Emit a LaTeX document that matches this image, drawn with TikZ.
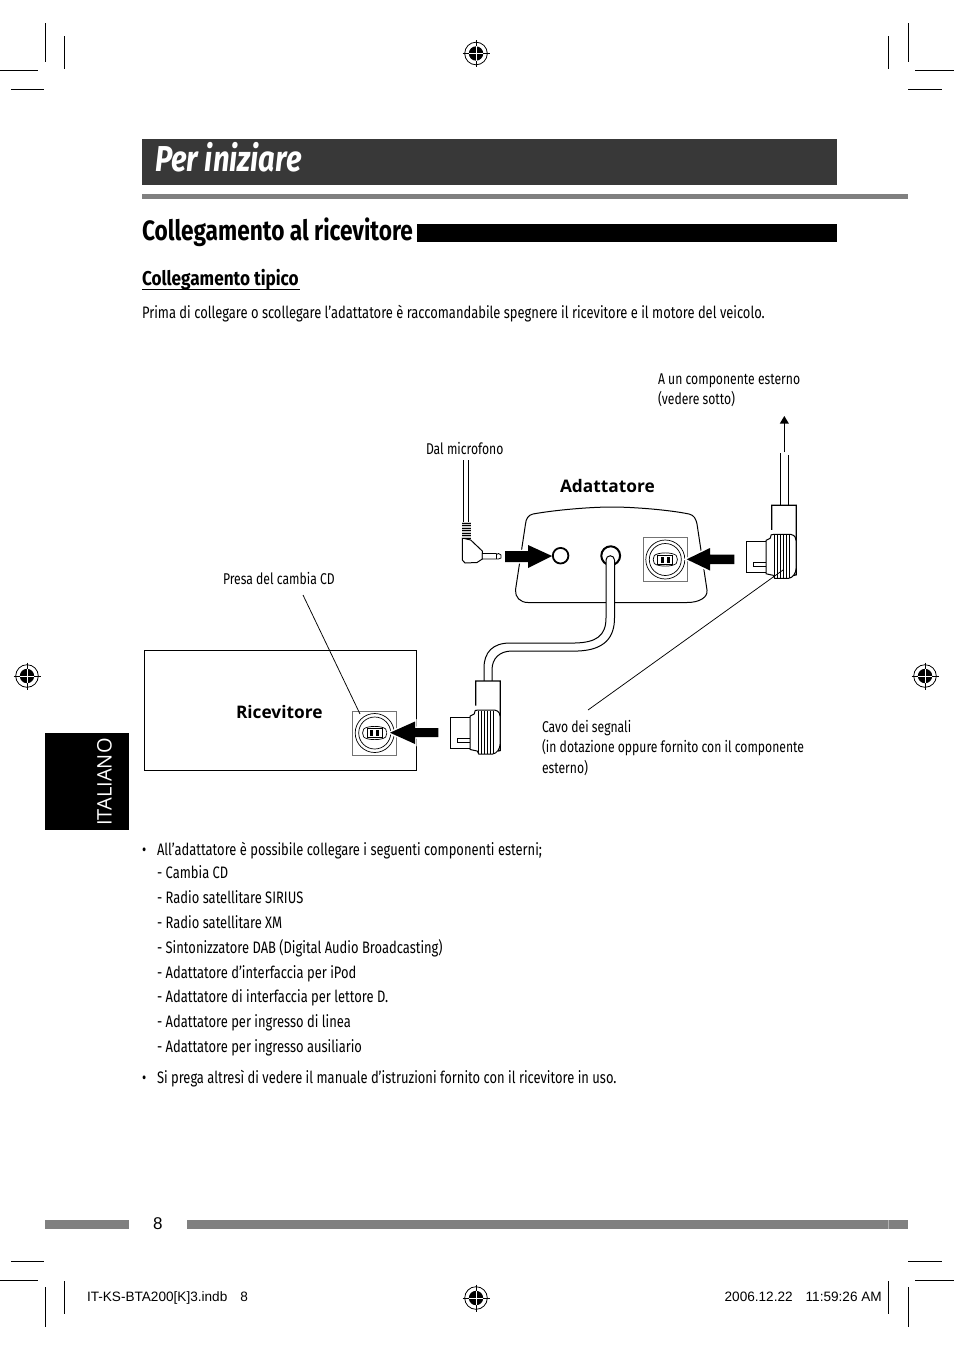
\documentclass[tikz,border=0pt]{standalone}
\usepackage{fontspec}
\setmainfont{Fira Sans}[FakeStretch=0.78]
\newfontfamily\titlefont{Fira Sans}[FakeStretch=0.81]
\newfontfamily\headfont{Fira Sans}[FakeStretch=0.81]
\newfontfamily\subfont{Fira Sans}[FakeStretch=0.86]
\newfontfamily\wide{Open Sans}
\newfontfamily\arialf{Liberation Sans}
\newcommand{\fsz}[1]{\fontsize{#1}{#1}\selectfont}
\tikzset{
  txt/.style={anchor=base west,inner sep=0pt,outer sep=0pt,font=\fsz{16.6}},
  lab/.style={txt,font=\fsz{15.6}},
  crop/.style={line width=0.8pt,black},
  thin line/.style={line width=0.75pt,black},
  outline/.style={line width=1pt,black},
  heavy/.style={line width=1.3pt,black},
  halo/.style={draw=white,line width=3pt,fill=white},
  bigarrow/.style={fill=black},
  regmark/.pic={
    \draw[line width=0.8pt] (0,0) circle (11.3);
    \draw[line width=0.8pt] (-13.5,0) -- (13.5,0) (0,-13.5) -- (0,13.5);
    \fill[black] (0,0) circle (7.2);
    \draw[white,line width=0.8pt] (-7.2,0) -- (7.2,0) (0,-7.2) -- (0,7.2);
  },
  connector/.pic={
    \draw[heavy,fill=white] (0,24.5) -- (0,0) -- (24.5,0) -- (24.5,69.5) -- (22,70);
    \draw[outline,fill=white] (-25.5,36) rectangle (-5.5,67.5);
    \draw[thin line,fill=white] (-18,57) -- (-5.5,57) -- (-5.5,61.5) -- (-18,61.5) -- cycle;
    \draw[outline,fill=white] (-5.5,35) -- (-1.5,33) -- (-0.5,29.5) -- (2.5,29) -- (19,29)
       .. controls (23.5,30) and (24.5,33) .. (24.5,36) -- (24.5,62)
       .. controls (24.5,68) and (21,72.5) .. (17,73) -- (3,73) -- (1.5,70) -- (-1,69.5) -- (-5.5,68.5) -- cycle;
    \foreach \x in {2.5,6,9,12,15,18}
      \draw[line width=0.6pt] (\x,29.5) -- (\x,72.5);
  },
  socket/.pic={
    \draw[line width=0.8pt,black!55,fill=white] (-22,-22) rectangle (22,22);
    \draw[line width=0.7pt] (0,0) circle (19.5);
    \draw[line width=0.7pt] (0,0) circle (16);
    \draw[line width=0.7pt] (-11,-4) .. controls (-7,-7.5) and (7,-7.5) .. (11,-4)
      (-11,4) .. controls (-7,7.5) and (7,7.5) .. (11,4)
      (-11,-4) .. controls (-12.5,-1) and (-12.5,1) .. (-11,4)
      (11,-4) .. controls (12.5,-1) and (12.5,1) .. (11,4);
    \draw[line width=0.8pt,fill=white] (-7.5,-4.5) rectangle (7.5,4.5);
    \fill (-4.5,-3) rectangle (-1.5,3);
    \fill (1.5,-3) rectangle (4.5,3);
  },
}
\begin{document}
\begin{tikzpicture}[x=1pt,y=-1pt]
\useasboundingbox (0,0) rectangle (954,1352);
\fill[white] (0,0) rectangle (954,1352);
% crop marks
\draw[crop] (45.5,23) -- (45.5,62) (64.5,36) -- (64.5,69) (0,70.5) -- (38,70.5) (11,89.5) -- (44,89.5);
\draw[crop] (908.5,23) -- (908.5,62) (888.5,36) -- (888.5,69) (915,70.5) -- (954,70.5) (908,89.5) -- (942,89.5);
\draw[crop] (45.5,1287) -- (45.5,1327) (64.5,1281) -- (64.5,1314) (0,1280.5) -- (38,1280.5) (11,1261.5) -- (44,1261.5);
\draw[crop] (908.5,1287) -- (908.5,1327) (888.5,1281) -- (888.5,1314) (915,1280.5) -- (954,1280.5) (908,1261.5) -- (942,1261.5);
\pic at (476,53.5) {regmark};
\pic at (27,676) {regmark};
\pic at (925,676) {regmark};
\pic at (476,1298) {regmark};
% header
\fill[black!78] (142,139) rectangle (837,185);
\node[txt,white,font=\titlefont\fsz{36}\bfseries\itshape] (title) at (155,171) {Per iniziare};
\fill[black!50] (142,194) rectangle (908,199);
\node[txt,font=\headfont\fsz{28}\bfseries] (heading) at (142,240) {Collegamento al ricevitore};
\fill[black] (417,224) rectangle (837,242);
\node[txt,font=\subfont\fsz{20}\bfseries] (sub) at (142,285) {Collegamento tipico};
\draw[line width=1pt] (142,289.5) -- (300,289.5);
\node[txt] (intro) at (142,318) {Prima di collegare o scollegare l’adattatore è raccomandabile spegnere il ricevitore e il motore del veicolo.};
% side tab
\fill[black] (45,733) rectangle (129,830);
\node[anchor=center,rotate=90,white,inner sep=0pt,font=\wide\fsz{20}] (tab) at (104.5,782) {ITALIANO};
% footer
\fill[black!50] (45,1220) rectangle (129,1229);
\fill[black!50] (187,1220) rectangle (908,1229);
\draw[black!30,line width=0.5pt] (888.5,1220) -- (888.5,1229);
\node[txt,font=\arialf\fsz{17}] (pageno) at (153,1229) {8};
\node[txt,font=\arialf\fsz{13.6}] (slug) at (87,1301) {IT-KS-BTA200[K]3.indb\hspace{13pt}8};
\node[anchor=base east,inner sep=0pt,font=\arialf\fsz{13.6}] (date) at (882,1301) {2006.12.22\hspace{13pt}11:59:26 AM};
% receiver
\draw[line width=1pt] (144.7,650.7) rectangle (416.7,770.7);
\node[txt,font=\wide\fsz{17.3}\bfseries] (ric) at (236,718) {Ricevitore};
\pic at (374.7,733) {socket};
\node[lab] (presa) at (223,584) {Presa del cambia CD};
\draw[thin line] (303,595) -- (360,714);
% adapter
\draw[outline,fill=white] (612,507) .. controls (590,507) and (555,510) .. (533,514)
  .. controls (528,515) and (526,519) .. (525.5,524) -- (515.5,590)
  .. controls (515,597) and (520,602.5) .. (528,602.5) -- (687,602.5)
  .. controls (700,602.5) and (708,597) .. (707,590) -- (697,524)
  .. controls (696,519) and (694,515) .. (689,514)
  .. controls (670,510) and (634,507) .. (612,507) -- cycle;
\draw[line width=2pt] (610.7,555.7) circle (9.4);
\node[txt,font=\wide\fsz{17.3}\bfseries] (adat) at (560,492) {Adattatore};
\pic at (665.3,559.5) {socket};
% cable
\path[fill=white] (606,560) -- (606,618) .. controls (606,636) and (596,642.5) .. (575,643) -- (510,643)
  .. controls (493,643) and (484,652) .. (484,668) -- (484,681) -- (492,681) -- (492,670)
  .. controls (492,658) and (500,651) .. (512,651) -- (578,651)
  .. controls (604,650) and (614.5,638) .. (614.5,618) -- (614.5,560)
  arc (0:-180:4.25) -- cycle;
\draw[outline] (606,560) -- (606,618) .. controls (606,636) and (596,642.5) .. (575,643) -- (510,643)
  .. controls (493,643) and (484,652) .. (484,668) -- (484,681);
\draw[outline] (614.5,560) -- (614.5,618) .. controls (614.5,638) and (604,650) .. (578,651) -- (512,651)
  .. controls (500,651) and (492,658) .. (492,670) -- (492,681);
\draw[outline] (606,560) arc (180:360:4.25);
% connectors
\pic at (475.7,681) {connector};
\pic at (771.7,505.3) {connector};
\draw[outline] (780,453) -- (780,505) (788.3,455) -- (788.3,505);
\coordinate (upbase) at (784.3,452);
\coordinate (uptip) at (784.3,416);
\draw[line width=1pt] (upbase) -- (784.3,422);
\fill (uptip) -- (788.8,423.5) -- (779.8,423.5) -- cycle;
% microphone plug
\draw[outline] (463.5,460) -- (463.5,522) (468.3,460) -- (468.3,522);
\draw[outline,fill=white] (462.3,538) -- (462.3,560) -- (465,563) -- (477,562.5) -- (482.3,559) -- (482.3,551) -- (470.7,540) -- cycle;
\fill[black!20] (462.3,522) rectangle (470.7,538);
\foreach \y in {523,525.5,528,530.5,533,535.5,538} \draw[line width=1pt] (462.3,\y) -- (470.7,\y);
\draw[line width=0.8pt,fill=white] (482.3,553.5) -- (496,553.5) -- (497,554.2) -- (498.5,553.5) -- (501,555) -- (501,558) -- (498.5,559) -- (482.3,559) -- cycle;
\draw[line width=0.8pt] (496,553.5) -- (496,559);
% arrows
\foreach \st in {halo,bigarrow} {
\path[\st] (505,551) -- (528,551) -- (528,545) -- (552,556) -- (528,568) -- (528,562) -- (505,562) -- cycle;
\path[\st] (734.3,554.7) -- (710,554.7) -- (710,548) -- (686.7,559.3) -- (710,570.5) -- (710,564) -- (734.3,564) -- cycle;
\path[\st] (438.3,728) -- (415,728) -- (415,721.5) -- (390,732.7) -- (415,744) -- (415,737) -- (438.3,737) -- cycle;
}
\draw[line width=1.8pt] (560.6,555.7) circle (7.8);
% leader
\draw[thin line] (588,710) -- (783,570);
% labels
\node[lab] (comp1) at (658,384) {A un componente esterno};
\node[lab] (comp2) at (658,404) {(vedere sotto)};
\node[lab] (mic) at (426,454) {Dal microfono};
\node[lab] (cavo1) at (542,732) {Cavo dei segnali};
\node[lab] (cavo2) at (542,752) {(in dotazione oppure fornito con il componente};
\node[lab] (cavo3) at (542,773) {esterno)};
% list
\node[txt] (b1) at (142,855) {•};
\node[txt] (l1) at (157,855) {All’adattatore è possibile collegare i seguenti componenti esterni;};
\node[txt] (l2) at (157,878) {- Cambia CD};
\node[txt] (l3) at (157,903) {- Radio satellitare SIRIUS};
\node[txt] (l4) at (157,928) {- Radio satellitare XM};
\node[txt] (l5) at (157,953) {- Sintonizzatore DAB (Digital Audio Broadcasting)};
\node[txt] (l6) at (157,978) {- Adattatore d’interfaccia per iPod};
\node[txt] (l7) at (157,1002) {- Adattatore di interfaccia per lettore D.};
\node[txt] (l8) at (157,1027) {- Adattatore per ingresso di linea};
\node[txt] (l9) at (157,1052) {- Adattatore per ingresso ausiliario};
\node[txt] (b2) at (142,1083) {•};
\node[txt] (l10) at (157,1083) {Si prega altresì di vedere il manuale d’istruzioni fornito con il ricevitore in uso.};
\end{tikzpicture}
\end{document}
